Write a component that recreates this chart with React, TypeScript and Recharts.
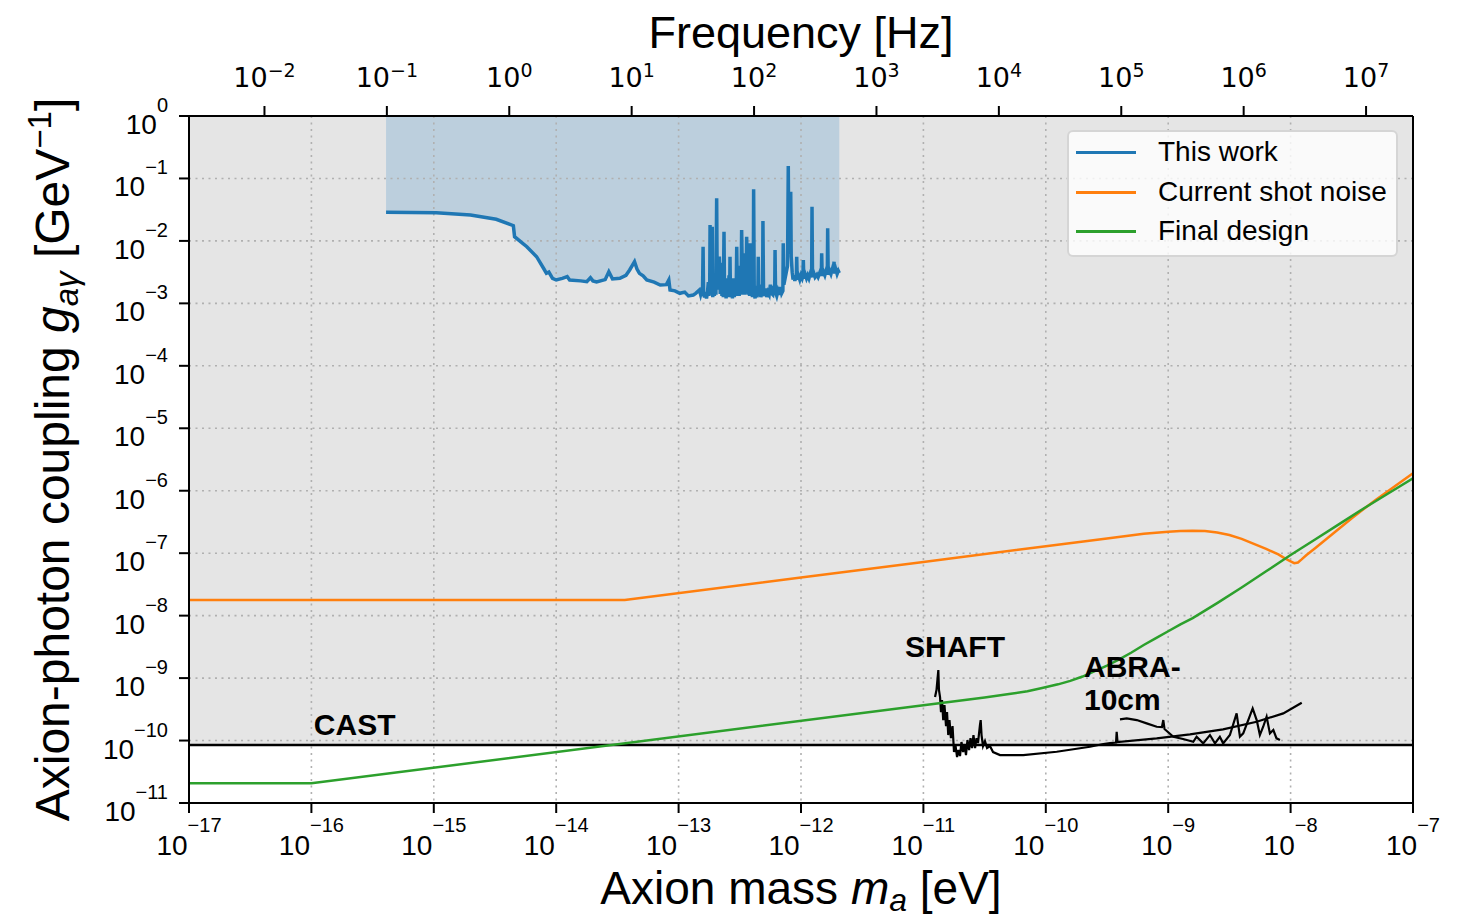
import React from 'react';
import {
  ComposedChart, Line, Area, XAxis, YAxis, CartesianGrid, ReferenceArea, ReferenceLine, ReferenceDot, Label
} from 'recharts';

// --- data: [log10 axion mass (eV), log10 coupling (GeV^-1)] ---
const massTicks = [-17, -16, -15, -14, -13, -12, -11, -10, -9, -8, -7];
const couplingTicks = [-11, -10, -9, -8, -7, -6, -5, -4, -3, -2, -1, 0];
const freqTicks = [-2, -1, 0, 1, 2, 3, 4, 5, 6, 7];
const LOG_HZ_PER_EV = Math.log10(2.418e14);

const castLimit = -10.07;

const thisWorkCurve: [number, number][] = [
  [-15.39, -1.542], [-14.98, -1.548], [-14.70, -1.585], [-14.49, -1.654], [-14.35, -1.757],
  [-14.34, -1.933], [-14.24, -2.093], [-14.16, -2.253], [-14.10, -2.45], [-14.08, -2.519],
  [-14.06, -2.50], [-14.03, -2.60], [-14.00, -2.626], [-13.95, -2.60], [-13.91, -2.573],
  [-13.89, -2.626], [-13.80, -2.64], [-13.75, -2.653], [-13.72, -2.589], [-13.70, -2.64],
  [-13.67, -2.658], [-13.60, -2.62], [-13.57, -2.493], [-13.54, -2.610], [-13.48, -2.599],
  [-13.43, -2.55], [-13.40, -2.466], [-13.36, -2.333], [-13.34, -2.45], [-13.32, -2.519],
  [-13.29, -2.56], [-13.26, -2.626], [-13.20, -2.66], [-13.15, -2.706], [-13.10, -2.70],
  [-13.08, -2.626], [-13.07, -2.786], [-13.03, -2.80], [-12.99, -2.839], [-12.95, -2.82],
  [-12.92, -2.88], [-12.88, -2.866], [-12.86, -2.84], [-12.83, -2.786],
  [-12.820, -2.86], [-12.812, -2.80], [-12.805, -2.88], [-12.800, -2.093], [-12.796, -2.85],
  [-12.788, -2.90], [-12.780, -2.82], [-12.772, -2.92], [-12.765, -2.84], [-12.757, -2.66],
  [-12.752, -2.88], [-12.746, -2.80], [-12.743, -1.745], [-12.739, -2.86], [-12.733, -2.50],
  [-12.728, -2.82], [-12.725, -1.773], [-12.721, -2.90], [-12.714, -2.70], [-12.708, -2.88],
  [-12.700, -2.62], [-12.695, -2.86], [-12.689, -1.318], [-12.685, -2.60], [-12.678, -2.30],
  [-12.672, -2.78], [-12.667, -2.25], [-12.660, -2.85], [-12.653, -2.45], [-12.646, -2.88],
  [-12.640, -2.35], [-12.635, -2.90], [-12.629, -1.853], [-12.625, -2.84], [-12.618, -2.60],
  [-12.612, -2.92], [-12.604, -2.70], [-12.596, -2.90], [-12.588, -2.55], [-12.583, -2.88],
  [-12.580, -2.253], [-12.576, -2.90], [-12.568, -2.80], [-12.560, -2.92], [-12.552, -2.60],
  [-12.545, -2.90], [-12.537, -2.75], [-12.530, -2.88], [-12.525, -2.093], [-12.520, -2.85],
  [-12.512, -2.45], [-12.505, -2.88], [-12.497, -2.40], [-12.490, -2.86], [-12.485, -1.825],
  [-12.480, -2.40], [-12.474, -2.82], [-12.468, -2.20], [-12.462, -2.86], [-12.455, -2.30],
  [-12.450, -2.84], [-12.444, -1.933], [-12.439, -2.50], [-12.432, -2.86], [-12.425, -2.60],
  [-12.420, -2.88], [-12.417, -2.038], [-12.412, -2.86], [-12.404, -2.70], [-12.397, -2.90],
  [-12.390, -2.80], [-12.387, -1.174], [-12.382, -2.84], [-12.375, -2.92], [-12.368, -2.72],
  [-12.360, -2.90], [-12.352, -2.82], [-12.349, -2.253], [-12.345, -2.88], [-12.336, -2.70],
  [-12.328, -2.90], [-12.320, -2.80], [-12.314, -2.88], [-12.311, -1.681], [-12.306, -2.84],
  [-12.298, -2.88], [-12.290, -2.76], [-12.280, -2.90], [-12.270, -2.82], [-12.260, -2.86],
  [-12.250, -2.70], [-12.240, -2.84], [-12.230, -2.86], [-12.220, -2.72], [-12.215, -2.84],
  [-12.212, -2.146], [-12.208, -2.82], [-12.198, -2.88], [-12.188, -2.80], [-12.178, -2.86],
  [-12.168, -2.74], [-12.158, -2.84], [-12.148, -2.80], [-12.145, -2.038], [-12.140, -2.70],
  [-12.130, -2.60], [-12.120, -2.50], [-12.110, -2.40], [-12.104, -0.801], [-12.100, -1.95],
  [-12.094, -2.20], [-12.087, -2.10], [-12.084, -1.212], [-12.080, -2.25], [-12.072, -2.50],
  [-12.065, -2.62], [-12.058, -2.56], [-12.050, -2.64], [-12.043, -2.55], [-12.038, -2.62],
  [-12.035, -2.253], [-12.031, -2.62], [-12.020, -2.56], [-12.010, -2.62], [-12.000, -2.55],
  [-11.990, -2.60], [-11.984, -2.56], [-11.981, -2.306], [-11.977, -2.60], [-11.965, -2.54],
  [-11.955, -2.60], [-11.945, -2.55], [-11.935, -2.60], [-11.925, -2.53], [-11.913, -2.58],
  [-11.910, -1.452], [-11.906, -2.58], [-11.895, -2.52], [-11.885, -2.58], [-11.870, -2.54],
  [-11.860, -2.58], [-11.845, -2.50], [-11.834, -2.56], [-11.831, -2.199], [-11.827, -2.56],
  [-11.815, -2.50], [-11.805, -2.55], [-11.795, -2.48], [-11.785, -2.54], [-11.782, -1.798],
  [-11.778, -2.54], [-11.765, -2.48], [-11.755, -2.53], [-11.745, -2.46], [-11.735, -2.52],
  [-11.730, -2.333], [-11.726, -2.52], [-11.715, -2.46], [-11.705, -2.53], [-11.695, -2.48],
  [-11.687, -2.514],
];

const shotNoiseCurve: [number, number][] = [
  [-17, -7.75], [-13.44, -7.75], [-12, -7.39], [-11, -7.14], [-10, -6.89], [-9.5, -6.765],
  [-9.2, -6.69], [-9.0, -6.655], [-8.9, -6.645], [-8.8, -6.64], [-8.7, -6.645], [-8.6, -6.67],
  [-8.5, -6.71], [-8.4, -6.77], [-8.3, -6.85], [-8.2, -6.93], [-8.1, -7.02], [-8.05, -7.08],
  [-8.0, -7.13], [-7.97, -7.16], [-7.94, -7.15], [-7.91, -7.10], [-7.87, -7.03], [-7.8, -6.92],
  [-7.7, -6.76], [-7.6, -6.60], [-7.5, -6.44], [-7.4, -6.29], [-7.3, -6.14], [-7.2, -6.00],
  [-7.1, -5.86], [-7.0, -5.72],
];

const finalDesignCurve: [number, number][] = [
  [-17, -10.685], [-16, -10.685], [-11, -9.435], [-10.5, -9.31], [-10.3, -9.255], [-10.15, -9.21],
  [-10.03, -9.16], [-9.9, -9.10], [-9.8, -9.045], [-9.7, -8.975], [-9.6, -8.89], [-9.5, -8.80],
  [-9.4, -8.70], [-9.3, -8.59], [-9.2, -8.47], [-9.1, -8.36], [-9.0, -8.25], [-8.9, -8.14],
  [-8.8, -8.04], [-8.6, -7.80], [-8.4, -7.55], [-8.2, -7.29], [-8.0, -7.03], [-7.8, -6.78],
  [-7.6, -6.53], [-7.4, -6.28], [-7.2, -6.04], [-7.0, -5.80],
];

const shaftCurve: [number, number][] = [
  [-10.905, -9.303], [-10.893, -9.191], [-10.878, -8.871], [-10.873, -9.191], [-10.864, -9.303],
  [-10.856, -9.544], [-10.848, -9.351], [-10.838, -9.672], [-10.828, -9.431], [-10.815, -9.768],
  [-10.807, -9.544], [-10.797, -9.912], [-10.787, -9.672], [-10.775, -9.960], [-10.762, -9.768],
  [-10.750, -10.184], [-10.738, -10.072], [-10.725, -10.264], [-10.713, -10.152], [-10.701, -10.248],
  [-10.689, -10.024], [-10.676, -10.184], [-10.664, -10.072], [-10.652, -10.232], [-10.640, -9.992],
  [-10.627, -10.152], [-10.615, -9.960], [-10.603, -10.120], [-10.591, -9.912], [-10.578, -10.120],
  [-10.566, -9.960], [-10.554, -10.040], [-10.538, -9.752], [-10.532, -9.672], [-10.525, -9.912],
  [-10.513, -10.088], [-10.497, -10.008], [-10.480, -10.120], [-10.456, -10.088], [-10.431, -10.184],
  [-10.374, -10.232], [-10.184, -10.232], [-9.911, -10.179], [-9.639, -10.099], [-9.530, -10.056],
  [-9.475, -10.040], [-9.426, -10.032], [-9.421, -9.859], [-9.414, -10.024], [-9.094, -9.965],
  [-8.822, -9.901], [-8.552, -9.821], [-8.277, -9.699], [-8.060, -9.565], [-7.909, -9.395],
];

const abraCurve: [number, number][] = [
  [-9.394, -9.661], [-9.339, -9.645], [-9.257, -9.672], [-9.176, -9.725], [-9.094, -9.779],
  [-9.051, -9.784], [-9.040, -9.672], [-9.030, -9.816], [-8.958, -9.939], [-8.879, -9.976],
  [-8.795, -10.019], [-8.768, -9.939], [-8.714, -10.045], [-8.659, -9.912], [-8.618, -10.045],
  [-8.578, -9.939], [-8.551, -10.045], [-8.496, -9.912], [-8.441, -9.565], [-8.414, -9.939],
  [-8.387, -9.885], [-8.346, -9.672], [-8.310, -9.485], [-8.277, -9.672], [-8.251, -9.912],
  [-8.224, -9.779], [-8.196, -9.619], [-8.169, -9.885], [-8.141, -9.832], [-8.115, -9.965],
  [-8.087, -9.992],
];

const castCurve: [number, number][] = [[-17, castLimit], [-7, castLimit]];

const legendItems = [
  { name: 'This work', color: '#1f77b4' },
  { name: 'Current shot noise', color: '#ff7f0e' },
  { name: 'Final design', color: '#2ca02c' },
];

const toPoints = (pts: [number, number][]) => pts.map(([m, g]) => ({ m, g }));

const thisWork = toPoints(thisWorkCurve);
const shotNoise = toPoints(shotNoiseCurve);
const finalDesign = toPoints(finalDesignCurve);
const shaft = toPoints(shaftCurve);
const abra = toPoints(abraCurve);
const cast = toPoints(castCurve);

const freqDomain = [massTicks[0] + LOG_HZ_PER_EV, massTicks[massTicks.length - 1] + LOG_HZ_PER_EV];
// invisible series so the frequency axis gets a domain
const freqSpan = freqDomain.map((m) => ({ m, g: couplingTicks[0] }));

const SANS = '"Liberation Sans", Arial, Helvetica, sans-serif';
const DEJAVU = '"DejaVu Sans", sans-serif';

const expText = (v: number) => (v < 0 ? `\u2212${Math.abs(v)}` : `${v}`);

const MassTick = ({ x, y, payload }: any) => (
  <text x={x} y={y + 42} textAnchor="middle" fontFamily={SANS} fontSize={28} fill="#000">
    10<tspan dy={-23} fontSize={20}>{expText(payload.value)}</tspan>
  </text>
);

const CouplingTick = ({ x, y, payload }: any) => (
  <text x={x - 11} y={y + 18} textAnchor="end" fontFamily={SANS} fontSize={28} fill="#000">
    10<tspan dy={-22} fontSize={20}>{expText(payload.value)}</tspan>
  </text>
);

const FreqTick = ({ x, y, payload }: any) => (
  <text x={x} y={y - 19} textAnchor="middle" fontFamily={DEJAVU} fontSize={27} fill="#000">
    10<tspan dy={-10} fontSize={19}>{expText(payload.value)}</tspan>
  </text>
);

const annotation = (lines: string[]) => (props: any) => {
  const { x, y } = props.viewBox;
  return (
    <text x={x} y={y} fontFamily={SANS} fontSize={30} fontWeight="bold" fill="#000">
      {lines.map((l, i) => (
        <tspan key={i} x={x} dy={i === 0 ? 0 : 33}>{l}</tspan>
      ))}
    </text>
  );
};

const W = 1471;
const H = 919;

export default function App() {
  return (
    <div style={{ position: 'fixed', left: 0, top: 0, width: W, height: H, background: '#fff' }}>
      <ComposedChart width={W} height={H} margin={{ top: 46, right: 58, bottom: 56, left: 89 }}>
        <XAxis
          type="number"
          dataKey="m"
          domain={[massTicks[0], massTicks[massTicks.length - 1]]}
          ticks={massTicks}
          allowDataOverflow
          height={60}
          tickSize={10}
          tickMargin={0}
          tick={<MassTick />}
          tickLine={{ stroke: '#000', strokeWidth: 2 }}
          axisLine={{ stroke: '#000', strokeWidth: 2 }}
        >
          <Label
            content={(p: any) => {
              const vb = p.viewBox;
              return (
                <text x={vb.x + vb.width / 2} y={vb.y + 101} textAnchor="middle" fontFamily={SANS} fontSize={46} fill="#000">
                  Axion mass <tspan fontStyle="italic">m</tspan>
                  <tspan fontStyle="italic" fontSize={32} dy={7}>a</tspan>
                  <tspan dy={-7}> [eV]</tspan>
                </text>
              );
            }}
          />
        </XAxis>
        <XAxis
          xAxisId="top"
          orientation="top"
          type="number"
          dataKey="m"
          domain={freqDomain}
          ticks={freqTicks}
          allowDataOverflow
          height={70}
          tickSize={10}
          tickMargin={0}
          tick={<FreqTick />}
          tickLine={{ stroke: '#000', strokeWidth: 2 }}
          axisLine={{ stroke: '#000', strokeWidth: 2 }}
        >
          <Label
            content={(p: any) => {
              const vb = p.viewBox;
              return (
                <text x={vb.x + vb.width / 2} y={48} textAnchor="middle" fontFamily={SANS} fontSize={45} fill="#000">
                  Frequency [Hz]
                </text>
              );
            }}
          />
        </XAxis>
        <YAxis
          type="number"
          domain={[couplingTicks[0], couplingTicks[couplingTicks.length - 1]]}
          ticks={couplingTicks}
          allowDataOverflow
          width={100}
          tickSize={10}
          tickMargin={0}
          tick={<CouplingTick />}
          tickLine={{ stroke: '#000', strokeWidth: 2 }}
          axisLine={{ stroke: '#000', strokeWidth: 2 }}
        >
          <Label
            content={(p: any) => {
              const vb = p.viewBox;
              const cy = vb.y + vb.height / 2;
              return (
                <text
                  x={69}
                  y={cy}
                  transform={`rotate(-90, 69, ${cy})`}
                  textAnchor="middle"
                  fontFamily={SANS}
                  fontSize={48}
                  fill="#000"
                >
                  Axion-photon coupling <tspan fontStyle="italic">g</tspan>
                  <tspan fontStyle="italic" fontSize={33} dy={9}>aγ</tspan>
                  <tspan dy={-9}> [GeV</tspan>
                  <tspan fontSize={33} dy={-18}>{'\u22121'}</tspan>
                  <tspan dy={18}>]</tspan>
                </text>
              );
            }}
          />
        </YAxis>

        {/* region above CAST (grey), white below */}
        <ReferenceArea
          x1={massTicks[0]}
          x2={massTicks[massTicks.length - 1]}
          y1={castLimit}
          y2={0}
          fill="#e5e5e5"
          fillOpacity={1}
          stroke="none"
          zIndex={-300}
        />
        <Area
          data={thisWork}
          dataKey="g"
          type="linear"
          baseValue={0}
          fill="#bccfdd"
          fillOpacity={1}
          stroke="none"
          isAnimationActive={false}
          zIndex={-200}
        />
        <CartesianGrid stroke="#b0b0b0" strokeDasharray="2 4.5" strokeWidth={1.6} zIndex={-100} />

        <Line xAxisId="top" data={freqSpan} dataKey="g" stroke="none" dot={false} legendType="none" isAnimationActive={false} />
        <Line data={cast} dataKey="g" type="linear" stroke="#000" strokeWidth={2.5} dot={false} isAnimationActive={false} />
        <Line data={shaft} dataKey="g" type="linear" stroke="#000" strokeWidth={2.2} dot={false} isAnimationActive={false} />
        <Line data={abra} dataKey="g" type="linear" stroke="#000" strokeWidth={2.2} dot={false} isAnimationActive={false} />
        <Line data={shotNoise} dataKey="g" type="linear" stroke="#ff7f0e" strokeWidth={2.5} dot={false} isAnimationActive={false} />
        <Line data={finalDesign} dataKey="g" type="linear" stroke="#2ca02c" strokeWidth={2.5} dot={false} isAnimationActive={false} />
        <Line data={thisWork} dataKey="g" type="linear" stroke="#1f77b4" strokeWidth={3.5} dot={false} isAnimationActive={false} />

        <ReferenceLine x={massTicks[massTicks.length - 1]} stroke="#000" strokeWidth={2} />

        <ReferenceDot x={-15.98} y={-9.912} r={0} stroke="none" fill="none" label={{ content: annotation(['CAST']) }} />
        <ReferenceDot x={-11.15} y={-8.663} r={0} stroke="none" fill="none" label={{ content: annotation(['SHAFT']) }} />
        <ReferenceDot x={-9.688} y={-8.983} r={0} stroke="none" fill="none" label={{ content: annotation(['ABRA-', '10cm']) }} />
      </ComposedChart>

      <div
        style={{
          position: 'absolute',
          left: 1067,
          top: 130,
          width: 331,
          height: 127,
          boxSizing: 'border-box',
          border: '2px solid rgba(204,204,204,0.8)',
          borderRadius: 6,
          background: 'rgba(255,255,255,0.8)',
          fontFamily: SANS,
          fontSize: 28,
          color: '#000',
        }}
      >
        {legendItems.map((item, i) => (
          <div
            key={item.name}
            style={{
              position: 'absolute',
              left: 0,
              top: [0, 40, 79][i],
              height: 40,
              display: 'flex',
              alignItems: 'center',
              whiteSpace: 'nowrap',
            }}
          >
            <span style={{ display: 'inline-block', marginLeft: 7, width: 60, height: 3, background: item.color }} />
            <span style={{ marginLeft: 22, lineHeight: '40px' }}>{item.name}</span>
          </div>
        ))}
      </div>
    </div>
  );
}
